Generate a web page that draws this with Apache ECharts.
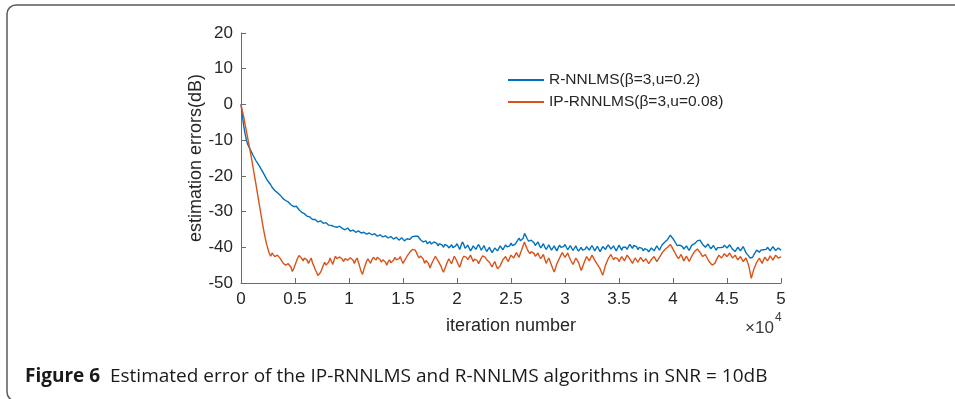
<!DOCTYPE html>
<html>
<head>
<meta charset="utf-8">
<script src="https://cdn.jsdelivr.net/npm/echarts@6/dist/echarts.min.js"></script>
<style>
  html, body { margin: 0; padding: 0; background: #fff; }
  #chart { width: 955px; height: 399px; }
</style>
</head>
<body>
<div id="chart"></div>
<script>
// sampling step of the curves (iterations)
const step = 125;

// estimation error (dB) of R-NNLMS, one value per 125 iterations
const rnnlms = [
  0, -3, -6, -8.2, -10, -11.2, -12, -12.8, -13.5, -14.3,
  -15, -15.7, -16.3, -16.8, -17.5, -18.2, -18.8, -19.5, -20, -20.9,
  -21.5, -21.9, -22.5, -23.2, -23.6, -24.1, -24.5, -24.7, -25.2, -25.4,
  -25.8, -26.3, -26.5, -26.9, -27.2, -27.3, -27.6, -28.1, -28.4, -28.6,
  -29.0, -28.5, -28.8, -29.5, -29.8, -30.2, -30.5, -30.6, -30.9, -31.3,
  -31.4, -31.5, -31.8, -32.2, -32.3, -32.2, -32.5, -32.9, -32.9, -32.6,
  -33.0, -33.3, -33.4, -33.1, -33.6, -33.8, -33.5, -33.9, -34.0, -34.2,
  -34.1, -34.4, -34.5, -34.1, -34.3, -34.7, -34.8, -35.1, -35.0, -34.6,
  -35.1, -35.5, -35.6, -35.2, -35.3, -35.8, -35.9, -35.4, -35.5, -36.0,
  -36.2, -35.8, -35.7, -36.3, -36.4, -36.0, -36.0, -36.5, -36.7, -36.2,
  -36.4, -36.9, -37.0, -36.5, -36.6, -37.1, -37.3, -36.8, -37.0, -37.4,
  -37.5, -37.0, -37.2, -37.7, -37.8, -37.2, -37.4, -38.0, -37.9, -37.3,
  -37.5, -38.2, -38.1, -37.6, -37.3, -37.8, -37.6, -37.0, -36.6, -36.9,
  -36.4, -36.9, -37.4, -37.9, -38.0, -38.5, -38.6, -38.2, -39.0, -38.7,
  -38.4, -39.1, -39.3, -38.5, -38.3, -38.9, -39.6, -39.0, -38.6, -39.4,
  -40.0, -39.2, -38.8, -39.6, -40.2, -39.7, -39.3, -40.1, -40.5, -39.6,
  -39.0, -39.8, -40.6, -39.5, -38.5, -39.2, -40.3, -40.0, -39.4, -40.2,
  -41.0, -40.4, -39.6, -40.1, -40.6, -39.8, -39.2, -40.0, -40.8, -40.2,
  -39.5, -40.4, -41.2, -40.6, -40.0, -40.8, -41.5, -41.0, -40.2, -40.6,
  -41.0, -40.3, -39.6, -40.1, -40.7, -40.0, -39.3, -39.9, -40.4, -39.6,
  -38.8, -39.5, -40.0, -39.2, -38.6, -38.0, -37.4, -38.2, -38.5, -37.5,
  -36.1, -36.8, -37.6, -38.3, -38.8, -38.0, -37.8, -38.7, -39.5, -39.0,
  -38.5, -39.4, -40.2, -39.6, -39.0, -39.9, -40.6, -40.0, -39.3, -40.1,
  -40.8, -40.2, -39.6, -40.4, -41.0, -40.1, -39.4, -40.0, -40.5, -39.8,
  -39.2, -40.0, -40.7, -40.1, -39.5, -40.3, -40.9, -40.2, -39.6, -40.5,
  -41.1, -40.6, -40.0, -40.8, -41.3, -40.5, -39.8, -40.3, -40.8, -40.1,
  -39.5, -40.2, -41.0, -40.4, -39.7, -40.5, -41.2, -40.5, -39.8, -40.1,
  -40.6, -39.9, -39.3, -39.9, -40.5, -40.0, -39.6, -40.4, -41.0, -40.2,
  -39.4, -40.1, -40.8, -40.0, -39.5, -40.0, -40.6, -39.8, -39.2, -39.7,
  -40.3, -39.5, -39.0, -39.8, -40.7, -40.0, -39.5, -40.3, -41.0, -40.4,
  -40.0, -40.7, -41.3, -40.8, -40.2, -40.6, -41.0, -40.3, -39.6, -40.2,
  -40.8, -40.0, -39.3, -38.9, -38.5, -38.2, -37.8, -37.2, -36.6, -37.0,
  -37.6, -38.2, -38.8, -39.5, -40.0, -39.4, -39.0, -39.8, -40.5, -40.0,
  -39.6, -40.3, -40.9, -40.1, -39.4, -39.2, -39.0, -38.5, -38.2, -38.0,
  -38.0, -38.6, -39.2, -39.7, -40.0, -39.5, -39.1, -39.8, -40.4, -39.9,
  -39.5, -40.2, -40.8, -40.1, -39.6, -40.1, -40.6, -40.0, -39.4, -39.8,
  -40.2, -39.7, -39.3, -39.9, -40.5, -40.9, -41.2, -40.6, -40.0, -40.5,
  -41.0, -40.4, -39.8, -40.6, -41.5, -42.0, -42.4, -43.0, -43.5, -42.8,
  -42.0, -41.4, -40.8, -41.1, -41.4, -40.8, -40.3, -40.7, -41.2, -40.6,
  -40.0, -40.5, -41.0, -40.4, -39.8, -40.3, -40.9, -40.5, -40.2, -40.5,
  -40.8
];

// estimation error (dB) of IP-RNNLMS, one value per 125 iterations
const iprnnlms = [
  0, -1.8, -3.5, -5.5, -7.5, -9.5, -11.5, -13.5, -15.5, -17.8,
  -20, -22.2, -24.5, -26.8, -29, -31.3, -33.5, -35.6, -37.5, -39.2,
  -40.5, -41.8, -42.5, -41.6, -41.5, -42.6, -43.0, -42.2, -42.0, -43.1,
  -43.5, -44.3, -44.0, -45.0, -45.5, -44.6, -44.2, -45.6, -46.8, -46.0,
  -45.0, -44.0, -43.0, -42.3, -42.0, -43.1, -43.8, -43.0, -42.5, -43.6,
  -44.5, -43.7, -43.0, -44.4, -45.2, -46.3, -47.0, -47.9, -48.4, -47.0,
  -46.0, -45.0, -44.2, -45.0, -45.5, -44.1, -43.0, -44.0, -44.8, -43.5,
  -42.5, -43.2, -43.6, -42.7, -42.2, -43.3, -44.0, -43.2, -42.8, -43.6,
  -43.8, -42.9, -42.4, -43.6, -44.5, -43.6, -43.0, -44.2, -45.5, -46.8,
  -47.6, -46.2, -45.0, -44.0, -43.2, -43.9, -44.5, -43.5, -42.8, -43.3,
  -43.6, -42.8, -42.3, -43.4, -44.2, -43.5, -43.0, -44.1, -45.0, -44.1,
  -43.5, -44.3, -44.8, -43.6, -42.8, -43.5, -44.0, -43.2, -42.6, -43.7,
  -44.5, -43.8, -43.2, -42.5, -42.0, -41.4, -41.0, -40.6, -40.3, -40.8,
  -41.5, -42.4, -43.0, -42.4, -42.0, -43.3, -44.5, -43.7, -43.2, -44.6,
  -45.8, -44.8, -44.0, -43.2, -42.5, -43.2, -43.8, -44.5, -45.2, -46.2,
  -47.0, -46.0, -45.0, -44.0, -43.2, -44.0, -44.6, -43.5, -42.5, -43.2,
  -44.0, -44.9, -45.6, -44.4, -43.2, -42.5, -42.0, -42.8, -43.5, -42.8,
  -42.2, -43.1, -44.0, -43.3, -42.8, -43.7, -44.6, -43.8, -43.0, -42.4,
  -42.0, -42.8, -43.5, -43.8, -44.2, -44.9, -45.5, -44.6, -44.0, -45.1,
  -46.0, -45.6, -45.2, -44.3, -43.5, -43.0, -42.6, -43.4, -44.0, -43.0,
  -42.2, -42.7, -43.0, -42.2, -41.5, -42.2, -42.8, -41.6, -40.6, -39.5,
  -38.5, -39.6, -40.5, -41.2, -41.8, -41.2, -40.8, -41.7, -42.5, -42.0,
  -41.6, -42.5, -43.2, -42.6, -42.0, -43.3, -44.5, -43.7, -43.0, -44.0,
  -45.0, -46.0, -46.9, -45.8, -44.6, -43.8, -43.0, -42.2, -41.5, -42.2,
  -42.8, -42.2, -41.6, -42.6, -43.5, -44.2, -44.8, -43.9, -43.0, -43.6,
  -44.2, -45.4, -46.5, -45.5, -44.5, -43.5, -42.6, -43.2, -43.8, -43.0,
  -42.2, -42.9, -43.6, -44.2, -44.8, -45.4, -46.0, -47.0, -47.8, -46.4,
  -45.0, -44.1, -43.2, -42.6, -42.0, -42.8, -43.5, -42.9, -42.4, -43.2,
  -44.0, -43.3, -42.6, -43.2, -43.8, -43.0, -42.2, -42.7, -43.2, -43.9,
  -44.5, -43.7, -43.0, -43.6, -44.2, -43.5, -42.8, -43.4, -44.0, -43.6,
  -43.2, -43.9, -44.6, -44.0, -43.4, -43.0, -42.6, -43.3, -44.0, -43.4,
  -42.8, -42.2, -41.5, -41.0, -40.6, -40.3, -40.0, -39.6, -39.2, -39.8,
  -40.5, -41.2, -42.0, -42.6, -43.2, -42.6, -42.0, -42.9, -43.8, -43.1,
  -42.5, -43.2, -44.0, -43.2, -42.4, -41.8, -41.2, -40.8, -40.5, -41.0,
  -41.4, -42.0, -42.6, -42.3, -42.0, -42.8, -43.5, -44.1, -44.6, -45.0,
  -45.4, -44.5, -43.6, -42.9, -42.2, -42.6, -43.0, -42.4, -41.8, -42.2,
  -42.6, -42.1, -41.6, -42.3, -43.0, -42.6, -42.2, -42.9, -43.5, -43.0,
  -42.6, -43.3, -44.0, -43.5, -43.0, -44.0, -45.0, -46.8, -48.7, -47.3,
  -46.0, -45.1, -44.2, -43.6, -43.0, -43.8, -44.5, -43.6, -42.8, -43.3,
  -43.8, -43.1, -42.4, -43.0, -43.6, -42.9, -42.2, -42.6, -43.0, -42.8,
  -42.7
];

const seriesNames = ['R-NNLMS(β=3,u=0.2)', 'IP-RNNLMS(β=3,u=0.08)'];
const yTicks = { min: -50, max: 20, interval: 10 };

const toPoints = arr => arr.map((v, i) => [i * step, v]);

const chart = echarts.init(document.getElementById('chart'), null, { renderer: 'canvas' });
const tickColor = '#262626';
const axisColor = '#6b6b6b';
const font = 'Liberation Sans';

chart.setOption({
  animation: false,
  backgroundColor: '#fff',
  grid: { left: 241, right: 174, top: 33, bottom: 116 },
  legend: {
    orient: 'vertical',
    left: 503,
    top: 67,
    itemWidth: 36,
    itemHeight: 2,
    itemGap: 6,
    icon: 'rect',
    textStyle: { fontFamily: font, fontSize: 15.5, color: tickColor, lineHeight: 16 },
    data: seriesNames
  },
  xAxis: {
    type: 'value',
    min: 0,
    max: 50000,
    interval: 5000,
    name: 'iteration number',
    nameLocation: 'middle',
    nameGap: 34,
    nameMoveOverlap: false,
    nameTextStyle: { fontFamily: font, fontSize: 18, color: tickColor },
    axisLine: { onZero: false, lineStyle: { color: axisColor, width: 1 } },
    axisTick: { inside: true, length: 5, lineStyle: { color: axisColor } },
    axisLabel: {
      margin: 8,
      fontFamily: font, fontSize: 17, color: tickColor,
      formatter: v => String(v / 10000)
    },
    splitLine: { show: false }
  },
  yAxis: {
    type: 'value',
    min: yTicks.min,
    max: yTicks.max,
    interval: yTicks.interval,
    name: 'estimation errors(dB)',
    nameLocation: 'middle',
    nameGap: 36,
    nameMoveOverlap: false,
    nameTextStyle: { fontFamily: font, fontSize: 18, color: tickColor },
    axisLine: { show: true, onZero: false, lineStyle: { color: axisColor, width: 1 } },
    axisTick: { show: true, inside: true, length: 5, lineStyle: { color: axisColor } },
    axisLabel: { margin: 8, fontFamily: font, fontSize: 17, color: tickColor },
    splitLine: { show: false }
  },
  series: [
    {
      name: seriesNames[0],
      type: 'line',
      data: toPoints(rnnlms),
      showSymbol: false,
      lineStyle: { color: '#0072BD', width: 1.4 },
      itemStyle: { color: '#0072BD' },
      z: 2
    },
    {
      name: seriesNames[1],
      type: 'line',
      data: toPoints(iprnnlms),
      showSymbol: false,
      lineStyle: { color: '#D95319', width: 1.4 },
      itemStyle: { color: '#D95319' },
      z: 3
    }
  ],
  graphic: [
    {
      type: 'rect',
      shape: { x: 7, y: 5, width: 960, height: 396, r: 9 },
      style: { fill: 'none', stroke: '#5a5a5a', lineWidth: 1.5 },
      silent: true
    },
    {
      type: 'text',
      x: 745, y: 320,
      style: { text: '×10', fontFamily: font, fontSize: 17, fill: '#3a3a3a' }
    },
    {
      type: 'text',
      x: 775, y: 312,
      style: { text: '4', fontFamily: font, fontSize: 12, fill: '#3a3a3a' }
    },
    {
      type: 'text',
      x: 25, y: 377,
      style: {
        text: '{b|Figure 6}  Estimated error of the IP-RNNLMS and R-NNLMS algorithms in SNR = 10dB',
        fontFamily: 'Open Sans',
        fontSize: 19,
        fill: '#1a1a1a',
        verticalAlign: 'middle',
        rich: { b: { fontFamily: 'Open Sans', fontSize: 19, fontWeight: 'bold', fill: '#1a1a1a' } }
      }
    }
  ]
});
</script>
</body>
</html>
